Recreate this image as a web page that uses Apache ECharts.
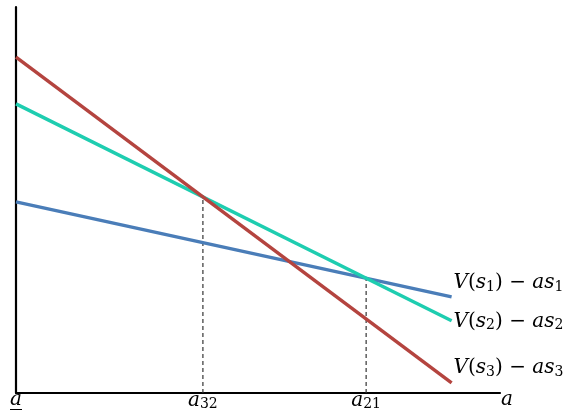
<!DOCTYPE html>
<html><head><meta charset="utf-8">
<script src="https://cdn.jsdelivr.net/npm/echarts@6/dist/echarts.min.js"></script>
<style>html,body{margin:0;padding:0;background:#fff}#c{width:569px;height:415px}</style>
</head><body><div id="c"></div>
<script>
// Data (axis units: a from 0 to 10, value from 0 to 10)
const xRange = [0, 10];
const yRange = [0, 10];
const line1 = [[0, 4.95], [9, 2.49]];   // V(s1) - a s1
const line2 = [[0, 7.49], [9, 1.87]];   // V(s2) - a s2
const line3 = [[0, 8.70], [9, 0.26]];   // V(s3) - a s3
const lineSubs = ['1', '2', '3'];
const tickLabels = ['a', 'a32', 'a21'];

function intersect(p, q) {
  const m1 = (p[1][1] - p[0][1]) / (p[1][0] - p[0][0]);
  const m2 = (q[1][1] - q[0][1]) / (q[1][0] - q[0][0]);
  const b1 = p[0][1] - m1 * p[0][0];
  const b2 = q[0][1] - m2 * q[0][0];
  const x = (b2 - b1) / (m1 - m2);
  return [x, b1 + m1 * x];
}
const p32 = intersect(line3, line2);
const p21 = intersect(line2, line1);

const font = "'DejaVu Serif', 'Liberation Serif', serif";
const rich = {
  i: {fontFamily: font, fontStyle: 'italic', fontSize: 20, color: '#000'},
  n: {fontFamily: font, fontSize: 20, color: '#000'},
  sub: {fontFamily: font, fontSize: 14, color: '#000', verticalAlign: 'bottom', padding: [8, 0, 0, 0]}
};
function lbl(k) {
  return '{i|V}{n|(}{i|s}{sub|' + lineSubs[k] + '}{n|) − }{i|as}{sub|' + lineSubs[k] + '}';
}
const colors = ['#4a7db8', '#1ecdb0', '#b4443f'];
const offsets = [[0, -14], [0, 1], [0, -15]];

function mainSeries(data, k) {
  return {
    type: 'line', data: data, symbol: 'none', silent: true,
    lineStyle: {color: colors[k], width: 3.4},
    endLabel: {show: true, distance: 2, offset: offsets[k], formatter: () => lbl(k), rich: rich}
  };
}
function dashSeries(p) {
  return {
    type: 'line', data: [[p[0], 0], [p[0], p[1]]], symbol: 'none', silent: true, z: 1,
    lineStyle: {color: '#333', width: 1.2, type: [4, 3]}
  };
}

const chart = echarts.init(document.getElementById('c'));
chart.setOption({
  animation: false,
  grid: {left: 16, right: 69, top: 7, bottom: 22, containLabel: false},
  xAxis: {
    type: 'value', min: xRange[0], max: xRange[1],
    splitLine: {show: false},
    axisLine: {show: true, onZero: false, lineStyle: {color: '#000', width: 2.2}},
    axisTick: {show: false},
    name: 'a', nameLocation: 'end', nameGap: 1,
    nameTextStyle: {fontFamily: font, fontStyle: 'italic', fontSize: 20, color: '#000', verticalAlign: 'top', padding: [-3, 0, 0, 0]},
    axisLabel: {
      customValues: [0, p32[0], p21[0]],
      margin: -3, showMinLabel: true,
      formatter: function (v) {
        if (Math.abs(v) < 1e-6) return '{i|' + tickLabels[0] + '}';
        if (Math.abs(v - p32[0]) < 1e-3) return '{i|a}{s|' + tickLabels[1].slice(1) + '}';
        return '{i|a}{s|' + tickLabels[2].slice(1) + '}';
      },
      rich: {
        i: {fontFamily: font, fontStyle: 'italic', fontSize: 20, color: '#000'},
        s: {fontFamily: font, fontSize: 14, color: '#000', verticalAlign: 'bottom', padding: [7, 0, 0, 0]}
      }
    }
  },
  yAxis: {
    type: 'value', min: yRange[0], max: yRange[1],
    splitLine: {show: false},
    axisLine: {show: true, lineStyle: {color: '#000', width: 2.2}},
    axisTick: {show: false}, axisLabel: {show: false}
  },
  series: [
    dashSeries(p32), dashSeries(p21),
    mainSeries(line1, 0), mainSeries(line2, 1), mainSeries(line3, 2)
  ]
});
// underline under the lower-bound label "a"
const pt = chart.convertToPixel({gridIndex: 0}, [0, 0]);
chart.setOption({graphic: [{type: 'line', silent: true,
  shape: {x1: pt[0] - 6, y1: 409.5, x2: pt[0] + 6, y2: 409.5},
  style: {stroke: '#000', lineWidth: 1}}]});
</script></body></html>
